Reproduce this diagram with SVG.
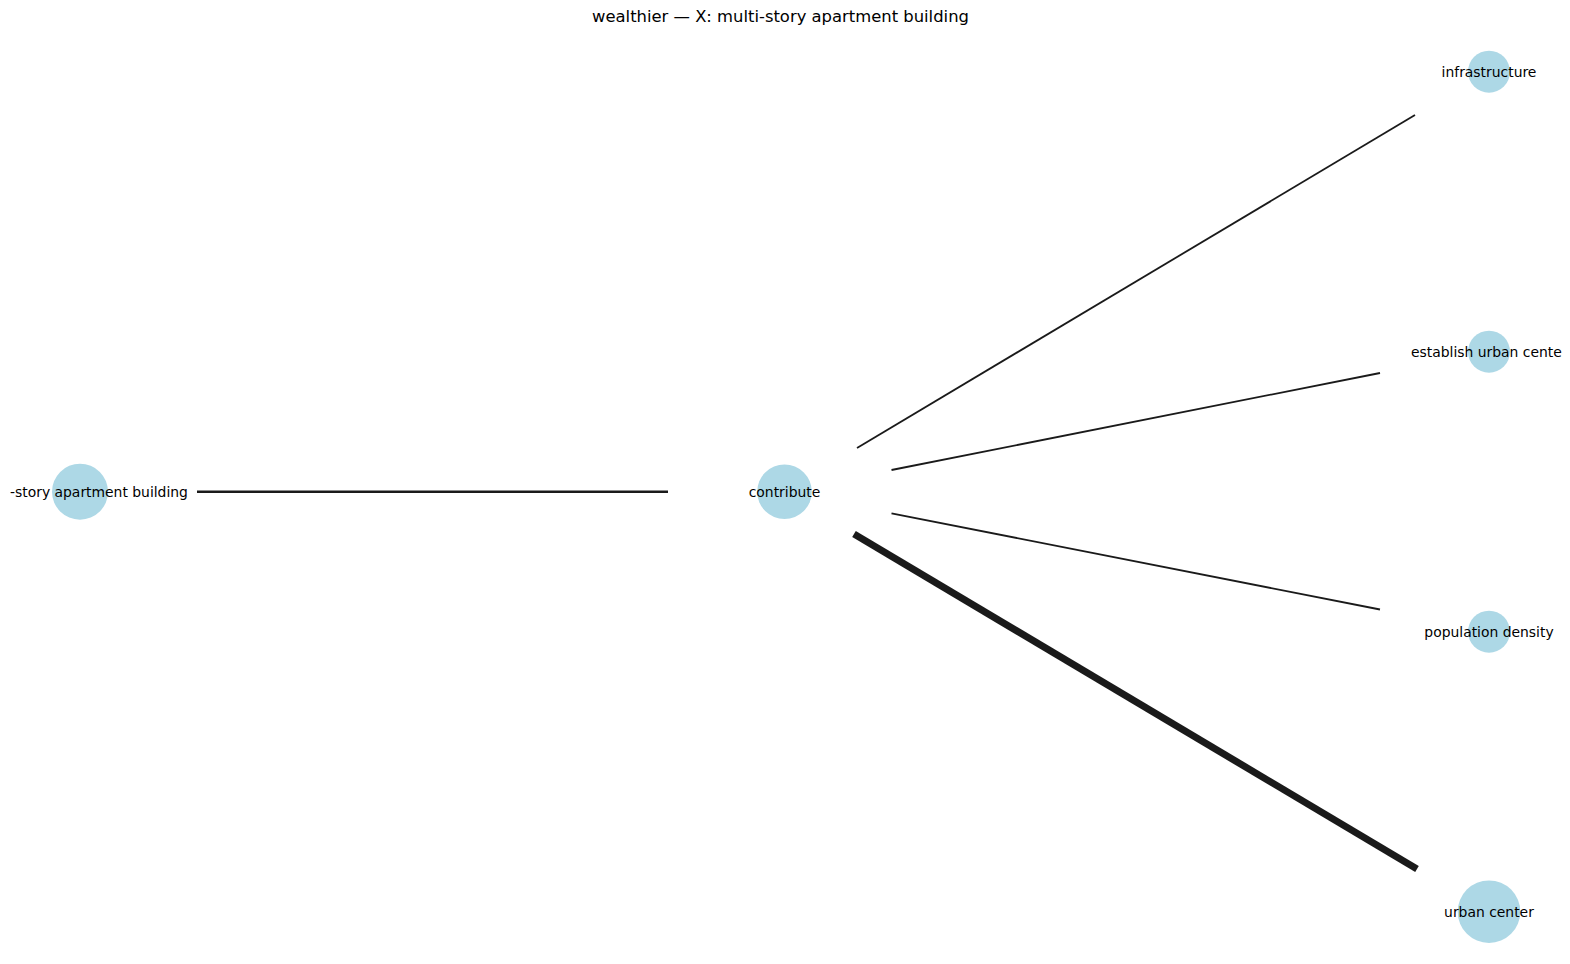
<svg xmlns="http://www.w3.org/2000/svg" width="1570" height="964" viewBox="0 0 1570 964">
<style>
.node{fill:#add8e6}
.lbl{font-family:"DejaVu Sans",sans-serif;font-size:13.9px;fill:#000;text-anchor:middle;dominant-baseline:central}
.edge{stroke:#1a1a1a;stroke-linecap:butt;fill:none}
.title{font-family:"DejaVu Sans",sans-serif;font-size:16.4px;fill:#000;text-anchor:middle}
</style>
<rect width="1570" height="964" fill="#fff"/>
<text class="title" x="780.5" y="22">wealthier — X: multi-story apartment building</text>
<g id="connectors">
<line class="edge" x1="197" y1="491.7" x2="668" y2="491.7" stroke-width="2.6"/>
<line class="edge" x1="857" y1="448" x2="1415" y2="115" stroke-width="1.8"/>
<line class="edge" x1="891.5" y1="470" x2="1380" y2="373" stroke-width="1.8"/>
<line class="edge" x1="891.5" y1="513.3" x2="1380" y2="609.5" stroke-width="1.8"/>
<line class="edge" x1="854" y1="534" x2="1417" y2="869" stroke-width="7"/>
</g>
<g id="node-apartment">
<circle class="node" cx="80" cy="491.7" r="28"/>
<text class="lbl" x="10" y="491.7" style="text-anchor:start">-story apartment building</text>
</g>
<g id="node-contribute">
<circle class="node" cx="784.5" cy="491.7" r="27.3"/>
<text class="lbl" x="784.5" y="491.7">contribute</text>
</g>
<g id="node-infrastructure">
<circle class="node" cx="1489" cy="71.7" r="21"/>
<text class="lbl" x="1489" y="71.7">infrastructure</text>
</g>
<g id="node-establish">
<circle class="node" cx="1489" cy="351.7" r="21"/>
<text class="lbl" x="1411" y="351.7" style="text-anchor:start">establish urban cente</text>
</g>
<g id="node-population">
<circle class="node" cx="1489" cy="631.7" r="21"/>
<text class="lbl" x="1489" y="631.7">population density</text>
</g>
<g id="node-urban">
<circle class="node" cx="1489" cy="911.7" r="31.3"/>
<text class="lbl" x="1489" y="911.7">urban center</text>
</g>
</svg>
